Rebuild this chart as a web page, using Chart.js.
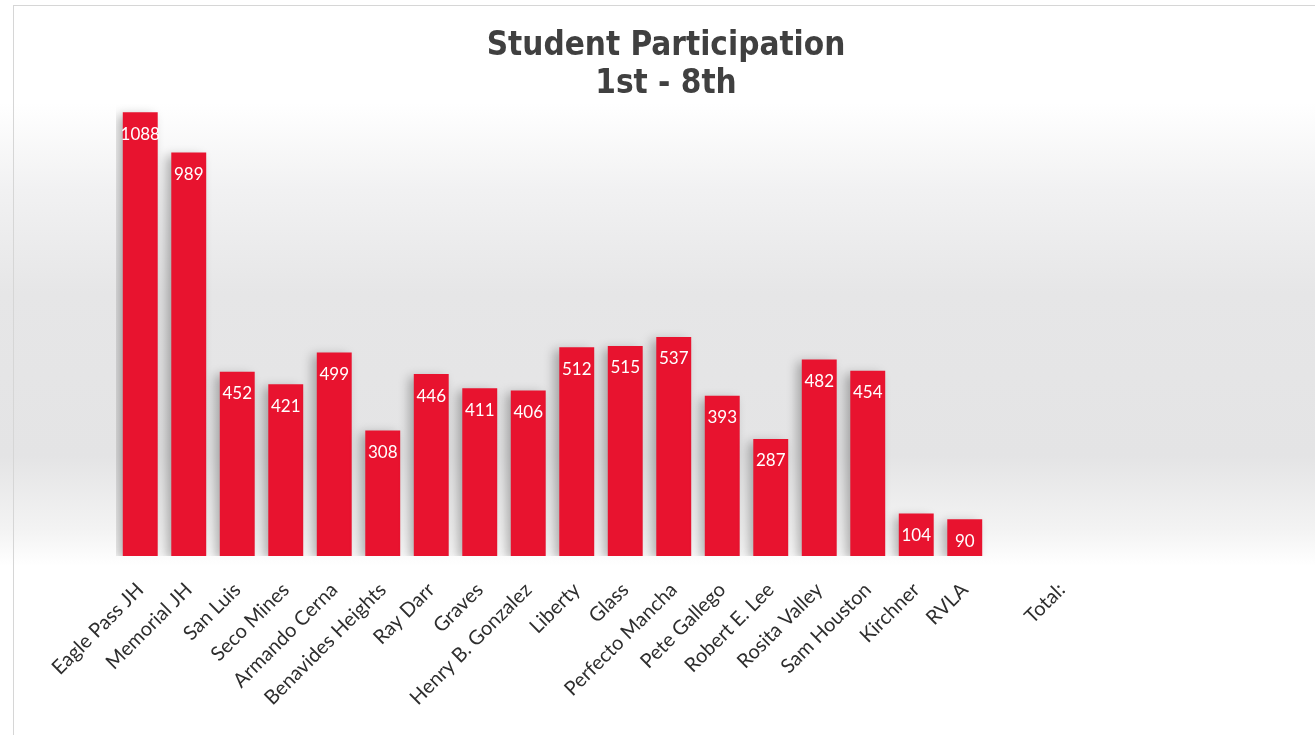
<!DOCTYPE html>
<html lang="en">
<head>
    <meta charset="UTF-8">
    <title>Student Participation</title>
    <script src="https://cdn.jsdelivr.net/npm/chart.js@4.4.1/dist/chart.umd.js"></script>
    <style>
        html, body { margin: 0; padding: 0; background: #fff; }
        .chart-container { width: 1315px; height: 735px; position: relative; }
    </style>
</head>
<body>
    <div class="chart-container">
        <canvas id="participationChart"></canvas>
    </div>

    <script>
        // data
        const schools = ['Eagle Pass JH', 'Memorial JH', 'San Luis', 'Seco Mines', 'Armando Cerna',
            'Benavides Heights', 'Ray Darr', 'Graves', 'Henry B. Gonzalez', 'Liberty', 'Glass',
            'Perfecto Mancha', 'Pete Gallego', 'Robert E. Lee', 'Rosita Valley', 'Sam Houston',
            'Kirchner', 'RVLA', '', 'Total:'];
        const students = [1088, 989, 452, 421, 499, 308, 446, 411, 406, 512, 515, 537, 393, 287,
            482, 454, 104, 90, null, null];
        const titleLines = ['Student Participation', '1st - 8th'];

        // grey wash behind the chart, thin frame and the two-line title
        const backdrop = {
            id: 'backdrop',
            beforeDraw(chart) {
                const ctx = chart.ctx;
                const h = chart.height, w = chart.width;
                const g = ctx.createLinearGradient(0, 0, 0, h);
                g.addColorStop(0, '#ffffff');
                g.addColorStop(0.14, '#ffffff');
                g.addColorStop(0.26, '#f1f1f2');
                g.addColorStop(0.4, '#e6e6e7');
                g.addColorStop(0.62, '#e4e4e5');
                g.addColorStop(0.72, '#f3f3f3');
                g.addColorStop(0.77, '#ffffff');
                g.addColorStop(1, '#ffffff');
                ctx.save();
                ctx.fillStyle = g;
                ctx.fillRect(0, 0, w, h);
                ctx.strokeStyle = '#d6d6d6';
                ctx.lineWidth = 1;
                ctx.strokeRect(13.5, 5.5, w, h);

                ctx.fillStyle = '#404040';
                ctx.font = 'bold 33px "DejaVu Sans Condensed"';
                ctx.textAlign = 'center';
                ctx.textBaseline = 'alphabetic';
                ctx.fillText(titleLines[0], 666, 55);
                ctx.fillText(titleLines[1], 666, 93);
                ctx.restore();
            }
        };

        // soft shadow under bars
        const barShadow = {
            id: 'barShadow',
            beforeDatasetsDraw(chart) {
                const ctx = chart.ctx;
                ctx.save();
                ctx.shadowColor = 'rgba(0,0,0,0.28)';
                ctx.shadowBlur = 10;
                ctx.shadowOffsetX = -5;
                ctx.shadowOffsetY = 3;
            },
            afterDatasetsDraw(chart) {
                chart.ctx.restore();
            }
        };

        // white value inside the top of each bar
        const valueLabels = {
            id: 'valueLabels',
            afterDatasetsDraw(chart) {
                const ctx = chart.ctx;
                const meta = chart.getDatasetMeta(0);
                ctx.save();
                ctx.fillStyle = '#ffffff';
                ctx.font = '17px Lato';
                ctx.textAlign = 'center';
                ctx.textBaseline = 'middle';
                meta.data.forEach((bar, i) => {
                    if (students[i] == null) return;
                    ctx.fillText(String(students[i]), bar.x, bar.y + 22);
                });
                ctx.restore();
            }
        };

        const ctx = document.getElementById('participationChart').getContext('2d');
        new Chart(ctx, {
            type: 'bar',
            data: {
                labels: schools,
                datasets: [{
                    label: 'Students',
                    data: students,
                    backgroundColor: '#e8132f',
                    borderWidth: 0,
                    barPercentage: 1,
                    categoryPercentage: 0.72
                }]
            },
            options: {
                responsive: true,
                maintainAspectRatio: false,
                animation: false,
                layout: {
                    padding: { left: 116, right: 229, top: 100, bottom: 19 }
                },
                plugins: {
                    legend: { display: false },
                    tooltip: { enabled: false },
                    title: { display: false }
                },
                scales: {
                    x: {
                        grid: { display: false, drawTicks: false },
                        border: { display: false },
                        ticks: {
                            color: '#2e2e2e',
                            font: { family: 'Lato', size: 20 },
                            maxRotation: 45,
                            minRotation: 45,
                            autoSkip: false,
                            padding: 22
                        },
                        afterFit(scale) { scale.height = 160; }
                    },
                    y: {
                        display: false,
                        min: 0,
                        max: 1118
                    }
                }
            },
            plugins: [backdrop, barShadow, valueLabels]
        });
    </script>
</body>
</html>
